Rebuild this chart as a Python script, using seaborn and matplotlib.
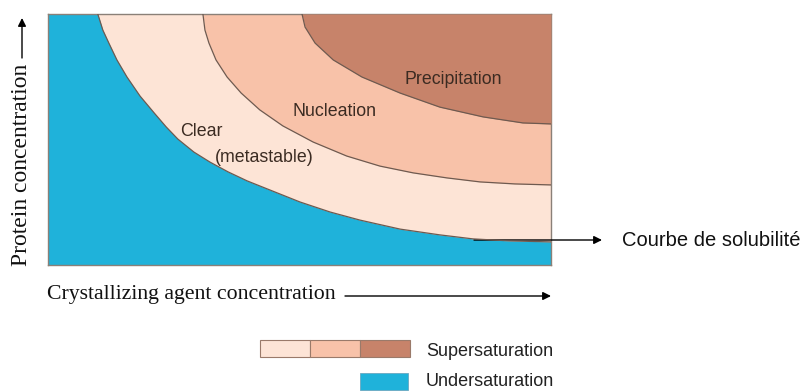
import matplotlib
matplotlib.use("Agg")
import matplotlib.pyplot as plt
import seaborn as sns
import pandas as pd
from matplotlib.patches import Rectangle

# Boundary curves (x = crystallizing agent, y = protein concentration)
sol_x = [0.99, 1.09, 1.21, 1.37, 1.57, 1.83, 2.11, 2.35, 2.58, 2.90, 3.22, 3.58, 3.96,
         4.31, 4.61, 5.01, 5.61, 6.20, 7.00, 7.79, 8.45, 9.18, 10.0]
sol_y = [10.0, 9.36, 8.84, 8.17, 7.49, 6.73, 6.06, 5.50, 5.02, 4.50, 4.10, 3.71, 3.35,
         3.07, 2.83, 2.51, 2.11, 1.79, 1.43, 1.20, 1.04, 0.96, 0.92]
meta_x = [3.08, 3.12, 3.20, 3.34, 3.56, 3.84, 4.21, 4.67, 5.27, 5.94, 6.60, 7.26, 7.93,
          8.59, 9.28, 10.0]
meta_y = [10.0, 9.36, 8.84, 8.17, 7.49, 6.85, 6.18, 5.54, 4.90, 4.34, 3.94, 3.67, 3.47,
          3.31, 3.23, 3.19]
prec_x = [5.05, 5.11, 5.31, 5.67, 6.24, 7.00, 7.79, 8.65, 9.44, 10.0]
prec_y = [10.0, 9.48, 8.84, 8.17, 7.49, 6.85, 6.29, 5.90, 5.66, 5.62]

region_labels = ["Clear", "(metastable)", "Nucleation", "Precipitation"]
legend_labels = ["Supersaturation", "Undersaturation"]

BLUE = "#1fb2da"
CLEAR = "#fde4d6"
NUCL = "#f8c2a9"
PREC = "#c7836a"
EDGE = "#6e5a50"
TXT = "#3b2b22"

sns.set_theme(style="white")
plt.rcParams['font.family'] = ['Liberation Sans', 'DejaVu Sans']

fig = plt.figure(figsize=(8.04, 3.92), dpi=100)
W, H = 804, 392
ax = fig.add_axes([48 / W, 1 - 265 / H, (551 - 48) / W, (265 - 14) / H])
ax.set_xlim(0, 10)
ax.set_ylim(0, 10)
ax.set_facecolor(BLUE)

df_sol = pd.DataFrame({"x": sol_x, "y": sol_y})
df_meta = pd.DataFrame({"x": meta_x, "y": meta_y})
df_prec = pd.DataFrame({"x": prec_x, "y": prec_y})

ax.fill_between(df_sol.x, df_sol.y, 10, color=CLEAR, lw=0, zorder=1)
ax.fill_between(df_meta.x, df_meta.y, 10, color=NUCL, lw=0, zorder=2)
ax.fill_between(df_prec.x, df_prec.y, 10, color=PREC, lw=0, zorder=3)
for d in (df_sol, df_meta, df_prec):
    sns.lineplot(data=d, x="x", y="y", ax=ax, color=EDGE, lw=0.9, sort=False, zorder=4)

ax.set_xticks([])
ax.set_yticks([])
ax.set_xlabel("")
ax.set_ylabel("")
for s in ax.spines.values():
    s.set_color("#8a8078")
    s.set_linewidth(1.0)
    s.set_visible(True)

def fx(px):
    return px / W

def fy(py):
    return 1 - py / H

tk = dict(color=TXT, fontsize=12.8, ha="center", va="center")
fig.text(fx(201), fy(131), region_labels[0], **tk)
fig.text(fx(264), fy(157), region_labels[1], **tk)
fig.text(fx(335), fy(111), region_labels[2], **tk)
fig.text(fx(453), fy(80), region_labels[3], **tk)

serif = ['Liberation Serif', 'DejaVu Serif']
fig.text(fx(22), fy(165), "Protein concentration", rotation=90, family=serif,
         fontsize=17, ha="center", va="center", color="#111111")
fig.text(fx(47), fy(295), "Crystallizing agent concentration", family=serif,
         fontsize=15.7, ha="left", va="center", color="#111111")

ap = dict(arrowstyle='-|>', color='black', lw=1.0, mutation_scale=12, shrinkA=0, shrinkB=0)
ax.annotate("", xy=(fx(22), fy(18)), xytext=(fx(22), fy(58)),
            xycoords='figure fraction', textcoords='figure fraction', arrowprops=ap)
ax.annotate("", xy=(fx(551), fy(296)), xytext=(fx(345), fy(296)),
            xycoords='figure fraction', textcoords='figure fraction', arrowprops=ap)
ax.annotate("", xy=(fx(602), fy(240)), xytext=(fx(474), fy(240)),
            xycoords='figure fraction', textcoords='figure fraction', arrowprops=ap,
            annotation_clip=False)
fig.text(fx(622), fy(240), "Courbe de solubilité", fontsize=14.5, ha="left", va="center",
         color="#111111")

# legend swatches
for (x0, c) in [(260, CLEAR), (310, NUCL), (360, PREC)]:
    fig.patches.append(Rectangle((fx(x0), fy(357)), 50 / W, 17 / H, transform=fig.transFigure,
                                 facecolor=c, edgecolor="#9a7a6a", lw=0.8))
fig.patches.append(Rectangle((fx(360), fy(390)), 48 / W, 17 / H, transform=fig.transFigure,
                             facecolor=BLUE, edgecolor="#6aa8c0", lw=0.6))
fig.text(fx(426), fy(351), legend_labels[0], fontsize=13, ha="left", va="center", color="#222222")
fig.text(fx(426), fy(381), legend_labels[1], fontsize=13, ha="left", va="center", color="#222222")

fig.savefig("out.png", dpi=100)
